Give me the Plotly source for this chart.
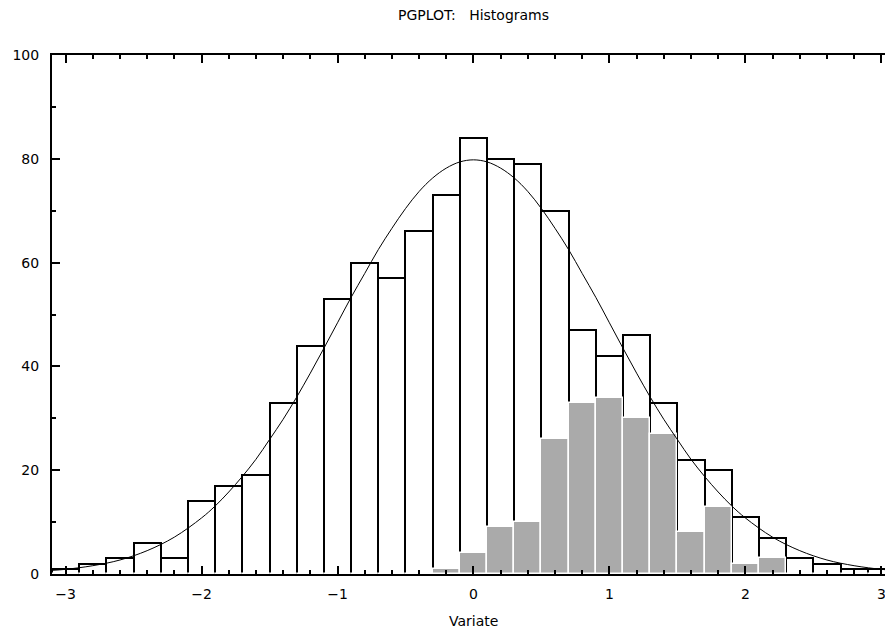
import plotly.graph_objects as go

# Bin centres (bin width 0.2, from -3.1 to 3.1)
bin_centers = [round(-3.0 + 0.2 * i, 1) for i in range(31)]
# Counts of the main (1000-sample) histogram
counts_main = [1, 2, 3, 6, 3, 14, 17, 19, 33, 44, 53, 60, 57, 66, 73, 84,
               80, 79, 70, 47, 42, 46, 33, 22, 20, 11, 7, 3, 2, 1, 1]
# Counts of the second (200-sample) grey histogram
counts_second = [0, 0, 0, 0, 0, 0, 0, 0, 0, 0, 0, 0, 0, 0, 1, 4,
                 9, 10, 26, 33, 34, 30, 27, 8, 13, 2, 3, 0, 0, 0, 0]
# Theoretical curve
curve_x = [-3.1, -3.0, -2.8, -2.6, -2.4, -2.2, -2.0, -1.9, -1.8, -1.7, -1.6, -1.5,
           -1.4, -1.3, -1.2, -1.1, -1.0, -0.9, -0.8, -0.7, -0.6, -0.5, -0.4, -0.3,
           -0.2, -0.1, 0.0, 0.1, 0.2, 0.3, 0.4, 0.5, 0.6, 0.7, 0.8, 0.9, 1.0, 1.1,
           1.2, 1.3, 1.4, 1.5, 1.6, 1.7, 1.8, 1.9, 2.0, 2.2, 2.4, 2.6, 2.8, 3.0, 3.1]
curve_y = [0.7, 0.9, 1.6, 2.7, 4.5, 7.1, 10.8, 13.1, 15.8, 18.8, 22.1, 25.9,
           29.8, 34.1, 38.7, 43.5, 48.4, 53.3, 57.9, 62.5, 66.6, 70.4, 73.7, 76.3,
           78.2, 79.4, 79.8, 79.4, 78.2, 76.3, 73.7, 70.4, 66.6, 62.5, 57.9, 53.3,
           48.4, 43.5, 38.7, 34.1, 29.8, 25.9, 22.1, 18.8, 15.8, 13.1, 10.8, 7.1,
           4.5, 2.7, 1.6, 0.9, 0.7]

x_ticks = [-3, -2, -1, 0, 1, 2, 3]
x_tick_labels = ["\u22123", "\u22122", "\u22121", "0", "1", "2", "3"]
y_ticks = [0, 20, 40, 60, 80, 100]
y_tick_labels = ["0", "20", "40", "60", "80", "100"]

FONT = "DejaVu Sans"

fig = go.Figure()
fig.add_trace(go.Bar(
    x=bin_centers, y=counts_main, width=0.2,
    marker=dict(color="rgba(0,0,0,0)", line=dict(color="black", width=2)),
    showlegend=False, hoverinfo="skip"))
fig.add_trace(go.Bar(
    x=bin_centers, y=counts_second, width=0.2,
    marker=dict(color="#aaaaaa", line=dict(color="white", width=1.5)),
    showlegend=False, hoverinfo="skip"))
fig.add_trace(go.Scatter(
    x=curve_x, y=curve_y, mode="lines", line=dict(color="black", width=1, shape="spline"),
    showlegend=False, hoverinfo="skip"))

fig.update_layout(
    width=885, height=630,
    margin=dict(l=52, r=0, t=55, b=56),
    paper_bgcolor="white", plot_bgcolor="white",
    barmode="overlay", bargap=0,
    font=dict(family=FONT, size=14, color="black"),
    xaxis=dict(
        range=[-3.1, 3.027], showgrid=False, zeroline=False,
        showline=True, linecolor="black", linewidth=2, mirror="allticks",
        ticks="inside", ticklen=8, tickwidth=2, tickcolor="black",
        tickvals=x_ticks, ticktext=x_tick_labels,
        minor=dict(dtick=0.2, tick0=-3.0, ticks="inside", ticklen=4, tickwidth=2,
                   tickcolor="black", showgrid=False),
        ticklabelstandoff=6, ticklabeloverflow="allow",
    ),
    yaxis=dict(
        range=[0, 100], showgrid=False, zeroline=False,
        showline=True, linecolor="black", linewidth=2, mirror=False,
        ticks="inside", ticklen=8, tickwidth=2, tickcolor="black",
        tickvals=y_ticks, ticktext=y_tick_labels,
        minor=dict(dtick=10, ticks="inside", ticklen=4, tickwidth=2,
                   tickcolor="black", showgrid=False),
        ticklabelstandoff=8,
    ),
    annotations=[
        dict(text="PGPLOT:\u00a0\u00a0\u00a0Histograms", x=0, xref="x", y=1.077, yref="paper",
             xanchor="center", yanchor="middle", showarrow=False,
             font=dict(family=FONT, size=14)),
        dict(text="Variate", x=0, xref="x", y=-0.0906, yref="paper",
             xanchor="center", yanchor="middle", showarrow=False,
             font=dict(family=FONT, size=14)),
    ],
)

fig.write_html("out.html")
